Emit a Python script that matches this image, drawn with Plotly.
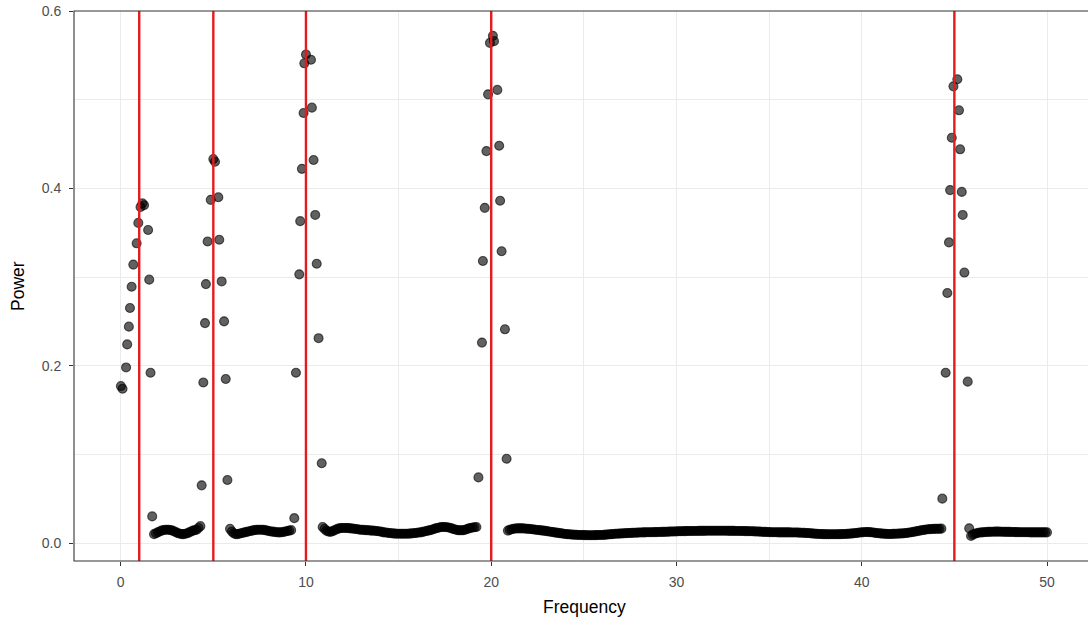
import numpy as np
import plotly.graph_objects as go

# ---- data ----
peak1_freq = [0.01, 0.10, 0.29, 0.35, 0.44, 0.50, 0.59, 0.68, 0.86, 0.95, 1.07, 1.17, 1.26, 1.48, 1.54, 1.61, 1.70]
peak1_power = [0.177, 0.174, 0.198, 0.224, 0.244, 0.265, 0.289, 0.314, 0.338, 0.361, 0.379, 0.383, 0.381, 0.353, 0.297, 0.192, 0.030]

peak5_freq = [4.37, 4.46, 4.55, 4.60, 4.69, 4.86, 5.00, 5.09, 5.27, 5.32, 5.45, 5.58, 5.67, 5.76]
peak5_power = [0.065, 0.181, 0.248, 0.292, 0.340, 0.387, 0.433, 0.430, 0.390, 0.342, 0.295, 0.250, 0.185, 0.071]

peak10_freq = [9.37, 9.46, 9.64, 9.69, 9.78, 9.87, 9.91, 10.00, 10.27, 10.32, 10.41, 10.50, 10.58, 10.68, 10.85]
peak10_power = [0.028, 0.192, 0.303, 0.363, 0.422, 0.485, 0.541, 0.551, 0.545, 0.491, 0.432, 0.370, 0.315, 0.231, 0.090]

peak20_freq = [19.31, 19.50, 19.55, 19.65, 19.74, 19.83, 19.93, 20.09, 20.15, 20.33, 20.43, 20.48, 20.56, 20.74, 20.83]
peak20_power = [0.074, 0.226, 0.318, 0.378, 0.442, 0.506, 0.564, 0.572, 0.566, 0.511, 0.448, 0.386, 0.329, 0.241, 0.095]

peak45_freq = [44.35, 44.53, 44.62, 44.71, 44.77, 44.86, 44.95, 45.16, 45.25, 45.31, 45.40, 45.45, 45.54, 45.72]
peak45_power = [0.050, 0.192, 0.282, 0.339, 0.398, 0.457, 0.515, 0.523, 0.488, 0.444, 0.396, 0.370, 0.305, 0.182]

# noise floor, sampled every 0.1 Hz from the given start frequency
noiseA_start = 1.8
noiseA_power = [0.010, 0.011, 0.012, 0.013, 0.014, 0.0145, 0.015, 0.015, 0.015, 0.0145,
                0.014, 0.013, 0.012, 0.011, 0.0105, 0.010, 0.010, 0.0105, 0.011, 0.012,
                0.013, 0.014, 0.0145, 0.015, 0.017, 0.019]
noiseB_start = 5.9
noiseB_power = [0.016, 0.013, 0.011, 0.010, 0.010, 0.0105, 0.011, 0.0115, 0.012, 0.0125,
                0.013, 0.0135, 0.014, 0.0145, 0.0148, 0.015, 0.015, 0.015, 0.0148, 0.0145,
                0.014, 0.0135, 0.013, 0.0128, 0.0125, 0.0122, 0.012, 0.012, 0.0122, 0.0125,
                0.013, 0.0135, 0.014, 0.0145]
noiseC_start = 10.9
noiseC_power = [0.018, 0.016, 0.014, 0.013, 0.0125, 0.013, 0.014, 0.015, 0.016, 0.0165,
                0.017, 0.017, 0.017, 0.017, 0.0168, 0.0165, 0.0163, 0.016, 0.0158, 0.0155,
                0.015, 0.015, 0.0148, 0.0145, 0.0145, 0.0143, 0.014, 0.014, 0.0138, 0.0135,
                0.0132, 0.013, 0.0125, 0.012, 0.0118, 0.0115, 0.0112, 0.011, 0.0108, 0.0106,
                0.0105, 0.0105, 0.0104, 0.0104, 0.0104, 0.0105, 0.0105, 0.0106, 0.0108, 0.011,
                0.0112, 0.0115, 0.0118, 0.012, 0.0125, 0.013, 0.0135, 0.014, 0.0145, 0.015,
                0.0158, 0.0165, 0.017, 0.0175, 0.018, 0.018, 0.018, 0.0178, 0.0175, 0.017,
                0.0162, 0.0155, 0.015, 0.0145, 0.0143, 0.0143, 0.0145, 0.015, 0.0158, 0.0165,
                0.017, 0.0175, 0.0178, 0.018]
noiseD_start = 20.9
noiseD_power = [0.014, 0.0148, 0.0155, 0.016, 0.0163, 0.0165, 0.0165, 0.0165, 0.0165, 0.0163,
                0.016, 0.016, 0.0158, 0.0155, 0.0152, 0.015, 0.0147, 0.0145, 0.0142, 0.014,
                0.0137, 0.0134, 0.013, 0.0127, 0.0124, 0.012, 0.0117, 0.0114, 0.0111, 0.0108,
                0.0105, 0.0102, 0.010, 0.0098, 0.0096, 0.0094, 0.0093, 0.0092, 0.0091, 0.009,
                0.009, 0.0089, 0.0089, 0.0088, 0.0088, 0.0088, 0.0088, 0.0089, 0.0089, 0.009,
                0.009, 0.0091, 0.0092, 0.0094, 0.0096, 0.0098, 0.010, 0.0102, 0.0104, 0.0105,
                0.0106, 0.0107, 0.0108, 0.011, 0.0111, 0.0112, 0.0113, 0.0114, 0.0115, 0.0116,
                0.0117, 0.0118, 0.0119, 0.012, 0.012, 0.0121, 0.0121, 0.0122, 0.0122, 0.0123,
                0.0123, 0.0124, 0.0124, 0.0125, 0.0125, 0.0126, 0.0127, 0.0128, 0.0129, 0.013,
                0.013, 0.0131, 0.0132, 0.0133, 0.0133, 0.0134, 0.0134, 0.0135, 0.0135, 0.0135,
                0.0136, 0.0136, 0.0136, 0.0137, 0.0137, 0.0137, 0.0137, 0.0138, 0.0138, 0.0138,
                0.0138, 0.0138, 0.0138, 0.0138, 0.0138, 0.0138, 0.0138, 0.0138, 0.0138, 0.0137,
                0.0137, 0.0137, 0.0137, 0.0136, 0.0136, 0.0136, 0.0135, 0.0135, 0.0134, 0.0134,
                0.0133, 0.0133, 0.0132, 0.0131, 0.013, 0.0129, 0.0128, 0.0127, 0.0126, 0.0125,
                0.0124, 0.0123, 0.0122, 0.0122, 0.0121, 0.0121, 0.012, 0.012, 0.012, 0.012,
                0.012, 0.012, 0.012, 0.0119, 0.0119, 0.0118, 0.0118, 0.0117, 0.0116, 0.0115,
                0.0114, 0.0113, 0.0112, 0.011, 0.0108, 0.0106, 0.0104, 0.0103, 0.0102, 0.0101,
                0.010, 0.010, 0.0099, 0.0099, 0.0099, 0.0099, 0.0099, 0.0099, 0.0099, 0.010,
                0.010, 0.0101, 0.0102, 0.0103, 0.0104, 0.0106, 0.0108, 0.011, 0.0112, 0.0115,
                0.0118, 0.012, 0.0122, 0.0124, 0.0124, 0.0123, 0.0121, 0.0118, 0.0115, 0.0112,
                0.011, 0.0108, 0.0106, 0.0104, 0.0103, 0.0102, 0.0102, 0.0102, 0.0103, 0.0104,
                0.0105, 0.0106, 0.0107, 0.0108, 0.011, 0.0112, 0.0115, 0.0118, 0.0122, 0.0126,
                0.013, 0.0134, 0.0138, 0.0142, 0.0146, 0.015, 0.0153, 0.0155, 0.0157, 0.0158,
                0.0159, 0.016, 0.016, 0.016, 0.0162]
noiseE_start = 45.8
noiseE_power = [0.0165, 0.008, 0.0095, 0.0105, 0.011, 0.0115, 0.0118, 0.012, 0.0122, 0.0124,
                0.0125, 0.0126, 0.0127, 0.0127, 0.0128, 0.0128, 0.0128, 0.0127, 0.0127, 0.0126,
                0.0126, 0.0125, 0.0125, 0.0124, 0.0124, 0.0123, 0.0123, 0.0122, 0.0122, 0.0122,
                0.0121, 0.0121, 0.0121, 0.012, 0.012, 0.012, 0.012, 0.012, 0.012, 0.012,
                0.012, 0.012, 0.012]

signal_freqs = [1, 5, 10, 20, 45]

x_ticks = [0, 10, 20, 30, 40, 50]
y_ticks = [0.0, 0.2, 0.4, 0.6]
y_tick_labels = ["0.0", "0.2", "0.4", "0.6"]

# ---- assemble ----
def seg(start, vals):
    return [round(start + 0.1 * i, 2) for i in range(len(vals))], list(vals)

freq, power = [], []
for f, p in [(peak1_freq, peak1_power), seg(noiseA_start, noiseA_power),
             (peak5_freq, peak5_power), seg(noiseB_start, noiseB_power),
             (peak10_freq, peak10_power), seg(noiseC_start, noiseC_power),
             (peak20_freq, peak20_power), seg(noiseD_start, noiseD_power),
             (peak45_freq, peak45_power), seg(noiseE_start, noiseE_power)]:
    freq += f
    power += p

W, H = 1088, 625
ml, mr, mt, mb = 74, 0, 11, 64
x_range = [-2.521, 52.213]
y_range = [-0.0203, 0.6]

font_family = "Liberation Sans, Arial, sans-serif"
grid_col = "#EBEBEB"
tick_font = dict(size=14, color="#4D4D4D", family=font_family)
title_font = dict(size=17.5, color="black", family=font_family)

fig = go.Figure()
fig.add_trace(go.Scatter(
    x=freq, y=power, mode="markers",
    marker=dict(size=9, color="rgba(0,0,0,0.62)",
                line=dict(width=1.1, color="rgba(0,0,0,0.62)")),
    hoverinfo="x+y", showlegend=False,
))

for f in signal_freqs:
    fig.add_shape(type="line", xref="x", yref="paper", x0=f, x1=f, y0=0, y1=1,
                  line=dict(color="#E41A1C", width=2.4), layer="above")

# panel border (ggplot theme_bw)
fig.add_shape(type="rect", xref="paper", yref="paper", x0=0, x1=1.05, y0=0, y1=1,
              line=dict(color="#333333", width=1.1), fillcolor="rgba(0,0,0,0)", layer="above")

fig.update_layout(
    width=W, height=H,
    margin=dict(l=ml, r=mr, t=mt, b=mb, pad=0),
    paper_bgcolor="white", plot_bgcolor="white",
    font=dict(family=font_family),
    xaxis=dict(range=x_range, tickvals=x_ticks, ticktext=[str(v) for v in x_ticks],
               showgrid=True, gridcolor=grid_col, gridwidth=1.07, zeroline=False,
               ticks="outside", ticklen=4, tickwidth=1.07, tickcolor="#333333",
               ticklabelstandoff=4, tickfont=tick_font,
               minor=dict(tickvals=[5, 15, 25, 35, 45], showgrid=True, gridcolor=grid_col, gridwidth=0.55),
               showline=False, fixedrange=True),
    yaxis=dict(range=y_range, tickvals=y_ticks, ticktext=y_tick_labels,
               showgrid=True, gridcolor=grid_col, gridwidth=1.07, zeroline=False,
               ticks="outside", ticklen=4, tickwidth=1.07, tickcolor="#333333",
               ticklabelstandoff=5, tickfont=tick_font,
               minor=dict(tickvals=[0.1, 0.3, 0.5], showgrid=True, gridcolor=grid_col, gridwidth=0.55),
               showline=False, fixedrange=True),
    annotations=[
        dict(text="Frequency", xref="paper", yref="paper", x=(584 - ml) / (W - ml - mr),
             y=-(607 - (H - mb)) / (H - mt - mb), xanchor="center", yanchor="middle",
             showarrow=False, font=title_font),
        dict(text="Power", xref="paper", yref="paper", x=-(ml - 18) / (W - ml - mr), y=0.5,
             textangle=-90, xanchor="center", yanchor="middle",
             showarrow=False, font=title_font),
    ],
)

fig.write_html("out.html", config={"displayModeBar": False},
               post_script="document.body.style.margin='0px';document.body.style.padding='0px';")
